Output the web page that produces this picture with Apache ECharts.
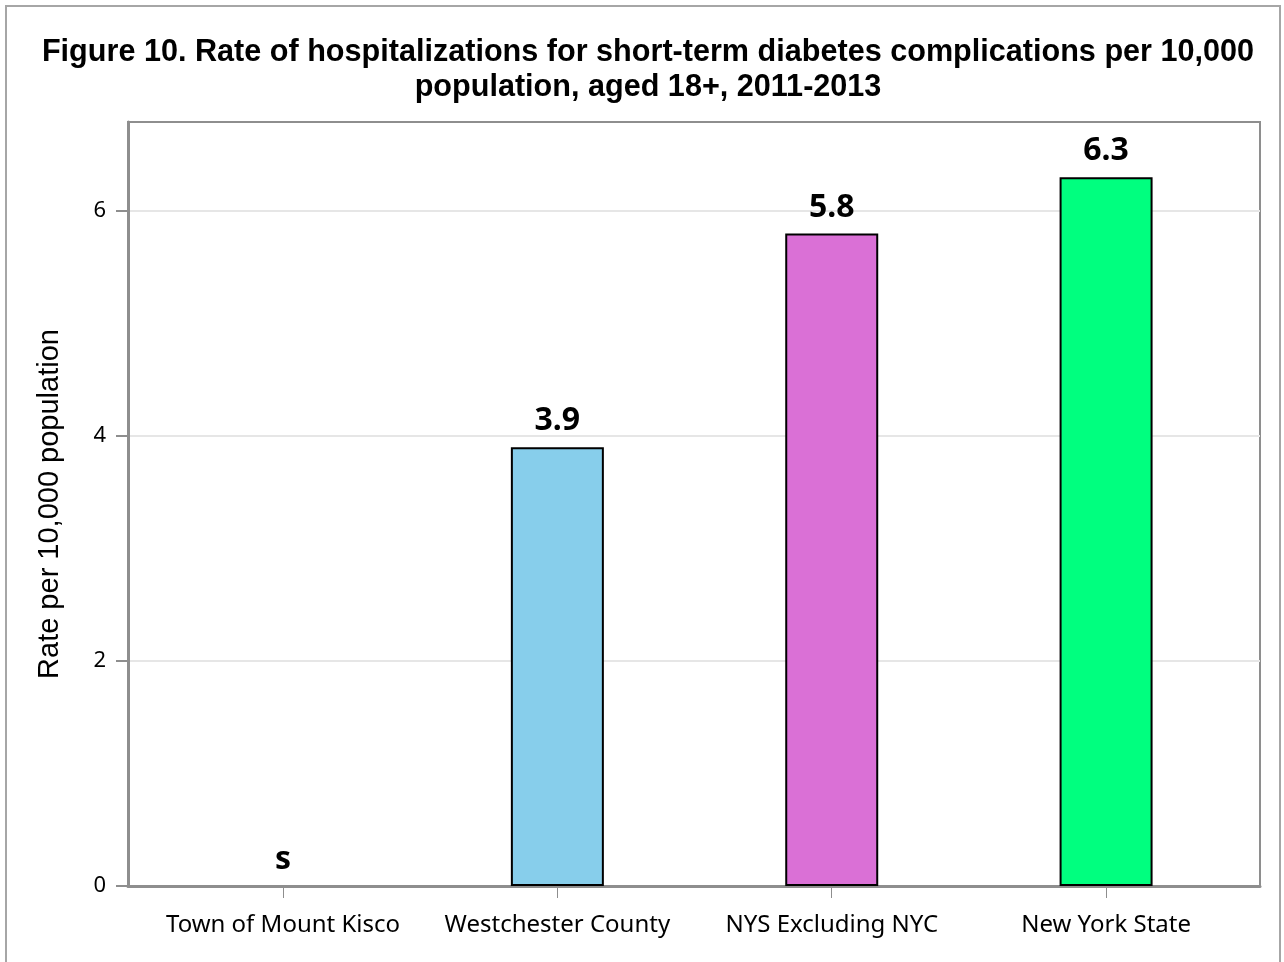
<!DOCTYPE html>
<html>
<head>
<meta charset="utf-8">
<script src="https://cdn.jsdelivr.net/npm/echarts@6/dist/echarts.min.js"></script>
<style>
    html, body { margin: 0; padding: 0; background: #fff; }
    #chart { width: 1284px; height: 962px; }
</style>
</head>
<body>
<div id="chart"></div>
<script>
const categories = ["Town of Mount Kisco", "Westchester County", "NYS Excluding NYC", "New York State"];
// null = suppressed ("s")
const rates = [null, 3.9, 5.8, 6.3];
const barColors = ["#87CEEB", "#87CEEB", "#DA70D6", "#00FF7F"];
const yTicks = [0, 2, 4, 6];

const tickFont = "Noto Sans";

const barData = rates.map((v, i) => ({
    value: [i, v === null ? 0 : v],
    suppressed: v === null,
    itemStyle: v === null
        ? { color: "transparent", borderWidth: 0 }
        : { color: barColors[i], borderColor: "#000", borderWidth: 2 },
}));

const chart = echarts.init(document.getElementById("chart"));
chart.setOption({
    animation: false,
    backgroundColor: "#fff",
    title: {
        text: "Figure 10. Rate of hospitalizations for short-term diabetes complications per 10,000\npopulation, aged 18+, 2011-2013",
        left: 643,
        top: 30,
        textAlign: "center",
        textStyle: {
            fontFamily: "Liberation Sans",
            fontWeight: "bold",
            fontSize: 30.6,
            lineHeight: 35,
            color: "#000",
        },
    },
    graphic: [{
        type: "rect",
        shape: { x: 6, y: 6, width: 1274, height: 970 },
        style: { fill: null, stroke: "#a6a6a6", lineWidth: 2 },
        silent: true,
        z: -1,
    }],
    grid: {
        left: 128,
        right: 24,
        top: 122,
        bottom: 76,
        show: true,
        borderColor: "#8e8e8e",
        borderWidth: 2,
    },
    xAxis: {
        type: "value",
        min: -0.565,
        max: 3.561,
        axisLine: { show: true, onZero: false, lineStyle: { color: "#8e8e8e", width: 3 } },
        axisTick: {
            show: true,
            customValues: [0, 1, 2, 3],
            length: 12,
            lineStyle: { color: "#8e8e8e", width: 1 },
        },
        axisLabel: {
            customValues: [0, 1, 2, 3],
            formatter: v => categories[Math.round(v)],
            margin: 27,
            fontFamily: tickFont,
            fontSize: 24,
            color: "#000",
        },
        splitLine: { show: false },
    },
    yAxis: {
        type: "value",
        min: 0,
        max: 6.79,
        name: "Rate per 10,000 population",
        nameLocation: "middle",
        nameRotate: 90,
        nameGap: 64,
        nameTextStyle: { fontFamily: "Liberation Sans", fontSize: 29, color: "#000" },
        axisLine: { show: true, onZero: false, lineStyle: { color: "#8e8e8e", width: 3 } },
        axisTick: {
            show: true,
            customValues: yTicks,
            length: 12,
            lineStyle: { color: "#8e8e8e", width: 2 },
        },
        axisLabel: {
            customValues: yTicks,
            margin: 22,
            fontFamily: tickFont,
            fontSize: 22,
            color: "#000",
        },
        splitLine: { show: true, lineStyle: { color: "#e6e6e6", width: 2 } },
    },
    series: [{
        type: "bar",
        barWidth: 93,
        data: barData,
        label: {
            show: true,
            position: "top",
            distance: 10,
            fontFamily: tickFont,
            fontWeight: "bold",
            fontSize: 32,
            color: "#000",
            formatter: p => p.data.suppressed ? "s" : p.value[1].toFixed(1),
        },
    }],
});
</script>
</body>
</html>
